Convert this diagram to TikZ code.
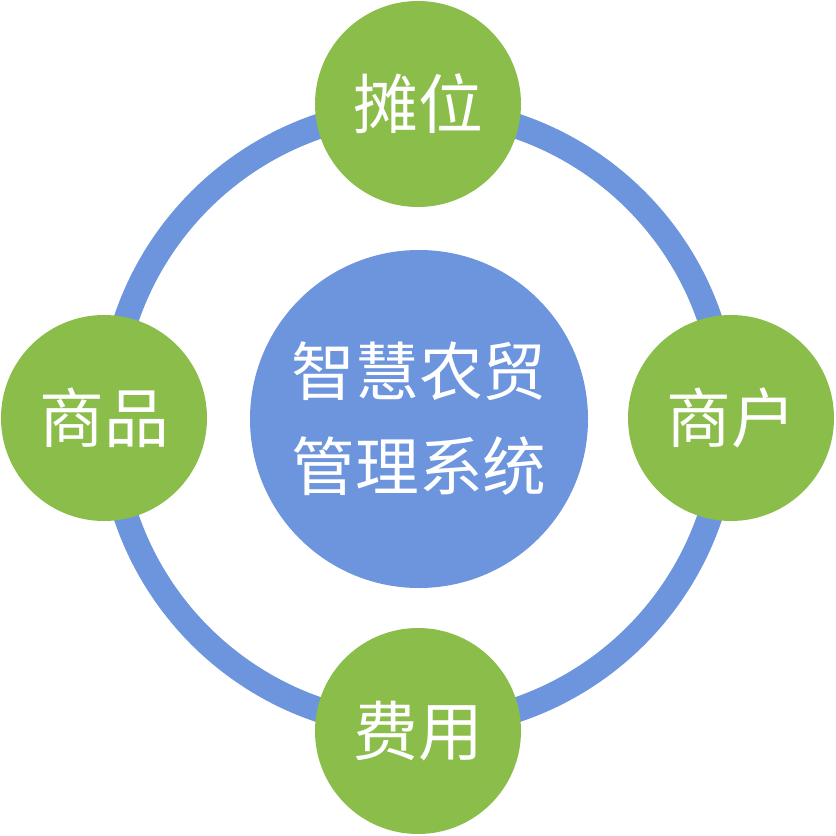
\documentclass[tikz,border=0pt]{standalone}
\usepackage{fontspec}
\newfontfamily\cjk{Noto Sans CJK SC}
\definecolor{ringblue}{HTML}{6C95DE}
\definecolor{leafgreen}{HTML}{8BBD4B}
\begin{document}
\begin{tikzpicture}[x=1bp,y=-1bp,
  leaf/.style={circle,fill=leafgreen,minimum size=206bp,inner sep=0pt,text=white,font=\cjk\fontsize{65}{70}\selectfont},
  hub/.style={circle,fill=ringblue,minimum size=338bp,inner sep=0pt,text=white,align=center,font=\cjk\fontsize{64}{95}\selectfont}]
\useasboundingbox (0,0) rectangle (836,836);
\coordinate (c) at (418,418);
\draw[ringblue,line width=25bp] (c) circle[radius=308bp];
\node[hub] (hub) at (419,419) {智慧农贸\\管理系统};
\node[leaf] (top) at (418,104) {摊位};
\node[leaf] (right) at (731,418) {商户};
\node[leaf] (left) at (104,418) {商品};
\node[leaf] (bottom) at (418,731) {费用};
\end{tikzpicture}
\end{document}
